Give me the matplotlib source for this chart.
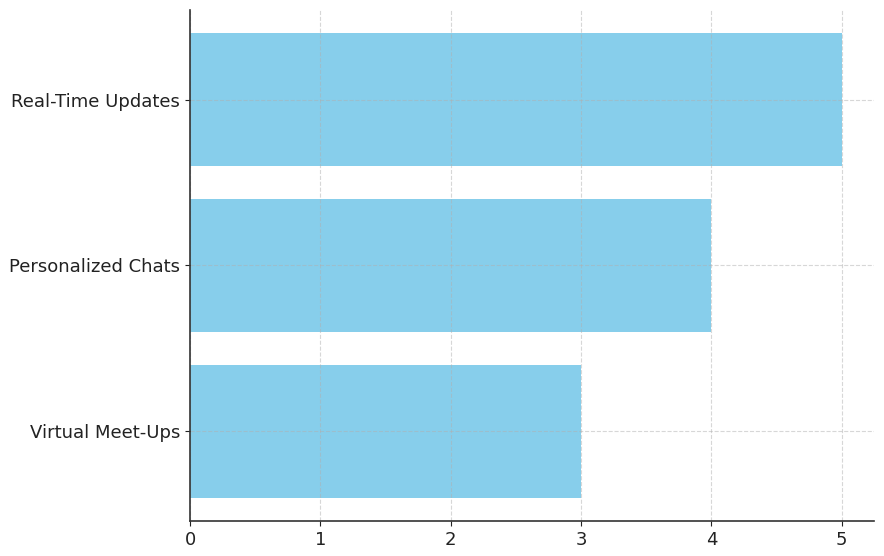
import matplotlib
matplotlib.use("Agg")
from matplotlib import pyplot as plt

features = ["Virtual Meet-Ups", "Personalized Chats", "Real-Time Updates"]
scores = [3, 4, 5]

fig, ax = plt.subplots(figsize=(8.84, 5.56), dpi=100)
ax.barh(features, scores, color="skyblue", zorder=1)
ax.grid(True, linestyle="--", color="#b0b0b0", alpha=0.5, linewidth=0.8, zorder=2)
ax.set_axisbelow(False)
ax.spines["top"].set_visible(False)
ax.spines["right"].set_visible(False)
for side in ["left", "bottom"]:
    ax.spines[side].set_zorder(3)
    ax.spines[side].set_color("#333333")
    ax.spines[side].set_linewidth(1.2)
ax.tick_params(labelsize=13, colors="#222222")
fig.subplots_adjust(left=0.215, right=0.989, top=0.982, bottom=0.063)
plt.savefig("out.png")
